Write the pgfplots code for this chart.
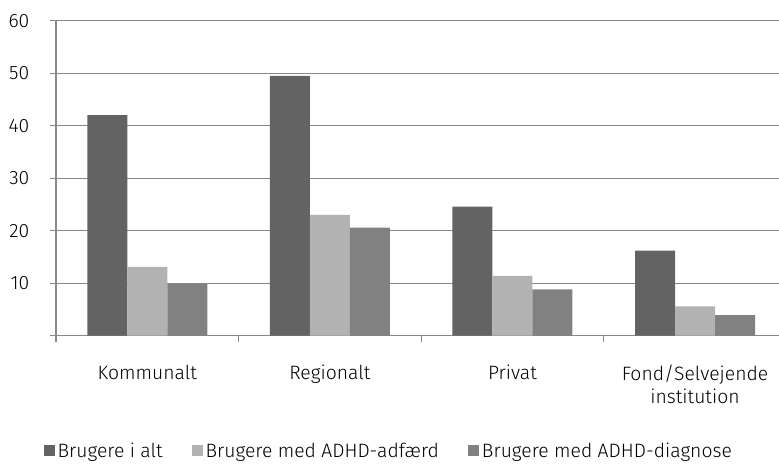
\documentclass[border=0pt]{standalone}
\usepackage{pgfplots}
\pgfplotsset{compat=1.18}
\usepackage{fontspec}
\setmainfont{Fira Sans}[UprightFont={* Light}]
\definecolor{cDark}{RGB}{99,99,99}
\definecolor{cLight}{RGB}{178,178,178}
\definecolor{cMid}{RGB}{129,129,129}
\definecolor{cGrid}{RGB}{136,136,136}
\begin{document}
\begin{tikzpicture}
\useasboundingbox (-42pt,-96pt) rectangle (542.25pt,251.75pt);
\begin{axis}[
  scale only axis,
  width=542.25pt, height=236.25pt,
  font=\fontsize{14.5}{17}\selectfont,
  /pgf/number format/assume math mode=true,
  ybar=0pt, bar width=30pt,
  xmin=-0.5, xmax=3.46,
  ymin=0, ymax=60,
  ytick={0,10,...,60},
  yticklabels={,10,20,30,40,50,60},
  xtick={0,1,2,3},
  xticklabels={Kommunalt,Regionalt,Privat,{Fond/Selvejende\\institution}},
  minor xtick={-0.5,0.5,1.5,2.5},
  xticklabel style={align=center, yshift=-14pt},
  yticklabel style={xshift=-12pt},
  axis x line*=bottom, axis y line*=left,
  axis line style={cGrid, line width=0.9pt, -},
  tick align=outside,
  major tick length=4.5pt, minor tick length=4.5pt,
  major x tick style={draw=none},
  every tick/.style={cGrid, line width=0.9pt},
  minor x tick style={cGrid, line width=0.9pt},
  ymajorgrids, major grid style={cGrid, line width=0.9pt},
  legend style={at={(0.460,-0.366)}, anchor=center, draw=none, fill=none,
    legend columns=3, font=\fontsize{14.5}{17}\selectfont,
    nodes={inner sep=1pt},
    /tikz/every odd column/.append style={column sep=1pt},
    /tikz/every even column/.append style={column sep=21pt}},
  legend image code/.code={\fill[#1] (0pt,-4.1pt) rectangle (8.25pt,4.1pt);},
  legend cell align=left,
]
\addplot[fill=cDark, draw=none] coordinates {(0,42.0) (1,49.5) (2,24.6) (3,16.2)};
\addplot[fill=cLight, draw=none] coordinates {(0,13.1) (1,23.0) (2,11.4) (3,5.6)};
\addplot[fill=cMid, draw=none] coordinates {(0,9.85) (1,20.6) (2,8.8) (3,3.9)};
\legend{Brugere i alt, Brugere med ADHD-adfærd, Brugere med ADHD-diagnose}
\end{axis}
\end{tikzpicture}
\end{document}
